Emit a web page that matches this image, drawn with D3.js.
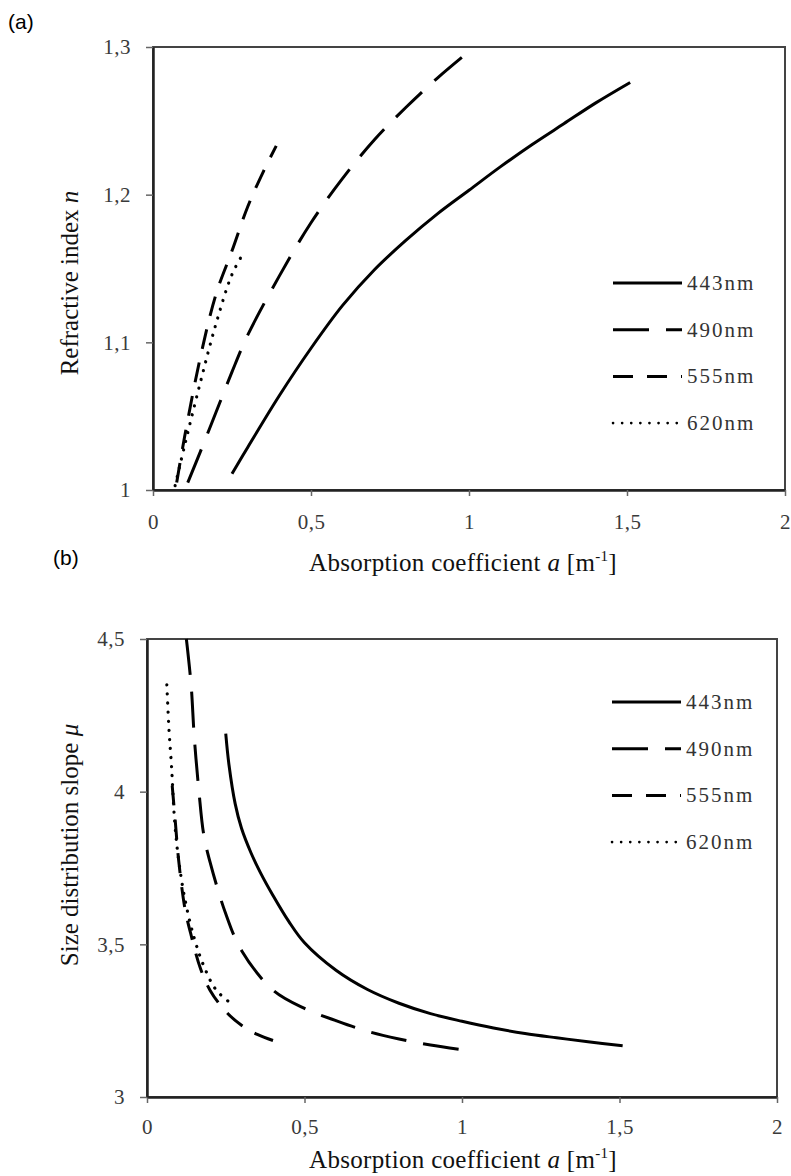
<!DOCTYPE html>
<html>
<head>
<meta charset="utf-8">
<script src="https://cdn.jsdelivr.net/npm/d3@7"></script>
<style>
  body { margin: 0; background: #fff; }
  svg { display: block; }
  .tick text { font-family: "Liberation Serif", serif; font-size: 21px; fill: #3a3a3a; letter-spacing: 0.5px; }
  .tick line { stroke: #666; stroke-width: 1.5; }
</style>
</head>
<body>
<div id="chart"></div>
<script>
// wavelengths shown in the legend
var wavelengths = ["443nm", "490nm", "555nm", "620nm"];
var dashes = [null, "36,17", "20,14", "0.1,9"];

// tick labels (comma as decimal separator)
var xTicks = [0, 0.5, 1, 1.5, 2];
var xTickLabels = ["0", "0,5", "1", "1,5", "2"];
var nTicks = [1, 1.1, 1.2, 1.3];
var nTickLabels = ["1", "1,1", "1,2", "1,3"];
var muTicks = [3, 3.5, 4, 4.5];
var muTickLabels = ["3", "3,5", "4", "4,5"];

// (a) refractive index n against absorption coefficient a
var n443 = [[0.25,1.011],[0.3,1.029],[0.4,1.064],[0.5,1.096],[0.6,1.125],[0.7,1.149],[0.8,1.169],[0.9,1.187],[1.0,1.203],[1.1,1.219],[1.2,1.234],[1.3,1.248],[1.4,1.262],[1.51,1.276]];
var n490 = [[0.11,1.005],[0.15,1.026],[0.2,1.053],[0.25,1.08],[0.3,1.105],[0.4,1.145],[0.5,1.181],[0.6,1.211],[0.7,1.237],[0.8,1.259],[0.9,1.279],[1.0,1.297]];
var n555 = [[0.075,1.005],[0.1,1.036],[0.15,1.09],[0.2,1.133],[0.25,1.162],[0.3,1.192],[0.35,1.216],[0.39,1.233]];
var n620 = [[0.07,1.003],[0.1,1.03],[0.15,1.073],[0.2,1.113],[0.25,1.146],[0.285,1.16]];

// (b) size distribution slope mu against absorption coefficient a
var mu443 = [[0.25,4.19],[0.26,4.09],[0.28,3.96],[0.3,3.88],[0.33,3.8],[0.36,3.735],[0.4,3.66],[0.45,3.575],[0.5,3.505],[0.6,3.415],[0.7,3.352],[0.8,3.307],[0.9,3.273],[1.0,3.248],[1.1,3.226],[1.2,3.208],[1.3,3.194],[1.4,3.181],[1.51,3.168]];
var mu490 = [[0.125,4.5],[0.14,4.35],[0.15,4.18],[0.165,4.0],[0.18,3.86],[0.2,3.77],[0.25,3.6],[0.3,3.48],[0.4,3.35],[0.5,3.29],[0.6,3.25],[0.7,3.215],[0.8,3.19],[0.9,3.17],[1.0,3.155]];
var mu555 = [[0.08,4.02],[0.09,3.9],[0.1,3.78],[0.12,3.62],[0.14,3.53],[0.17,3.42],[0.2,3.35],[0.25,3.28],[0.3,3.235],[0.35,3.205],[0.4,3.185]];
var mu620 = [[0.063,4.35],[0.07,4.2],[0.078,4.08],[0.088,3.9],[0.1,3.78],[0.12,3.65],[0.15,3.52],[0.18,3.43],[0.22,3.35],[0.275,3.3]];

var svg = d3.select("#chart").append("svg")
    .attr("width", 791)
    .attr("height", 1176);

var serif = "'Liberation Serif', 'Times New Roman', serif";

function panel(opt) {
    var x = d3.scaleLinear().domain([0, 2]).range([opt.left, opt.right]);
    var y = d3.scaleLinear().domain(opt.domain).range([opt.bottom, opt.top]);

    // frame
    svg.append("rect")
        .attr("x", opt.left).attr("y", opt.top)
        .attr("width", opt.right - opt.left).attr("height", opt.bottom - opt.top)
        .attr("fill", "none").attr("stroke", "#444").attr("stroke-width", 2);

    var ax = svg.append("g")
        .attr("transform", "translate(0," + opt.bottom + ")")
        .call(d3.axisBottom(x).tickValues(xTicks)
            .tickFormat(function(d, i) { return xTickLabels[i]; })
            .tickSize(6).tickSizeOuter(0).tickPadding(opt.xPad))
        .attr("font-family", serif);
    ax.select(".domain").attr("stroke", "#222").attr("stroke-width", 2.5);

    var ay = svg.append("g")
        .attr("transform", "translate(" + opt.left + ",0)")
        .call(d3.axisLeft(y).tickValues(opt.ticks)
            .tickFormat(function(d, i) { return opt.tickLabels[i]; })
            .tickSize(7).tickSizeOuter(0).tickPadding(15))
        .attr("font-family", serif);
    ay.select(".domain").attr("stroke", "#222").attr("stroke-width", 2.5);

    var line = d3.line()
        .x(function(d) { return x(d[0]); })
        .y(function(d) { return y(d[1]); })
        .curve(d3.curveCatmullRom);

    opt.series.forEach(function(s, i) {
        svg.append("path")
            .datum(s)
            .attr("fill", "none")
            .attr("stroke", "#000")
            .attr("stroke-width", i == 3 ? 3.2 : 3)
            .attr("stroke-linecap", i == 3 ? "round" : "butt")
            .attr("stroke-dasharray", dashes[i])
            .attr("d", line);
    });

    // legend
    wavelengths.forEach(function(w, i) {
        var ly = opt.legendY + i * 46.7;
        svg.append("line")
            .attr("x1", opt.legendX).attr("x2", opt.legendX + 69)
            .attr("y1", ly).attr("y2", ly)
            .attr("stroke", "#000")
            .attr("stroke-width", i == 3 ? 2.6 : 3)
            .attr("stroke-linecap", i == 3 ? "round" : "butt")
            .attr("stroke-dasharray", dashes[i]);
        svg.append("text")
            .attr("x", opt.legendX + 74).attr("y", ly)
            .attr("dy", "0.33em")
            .style("font-family", serif).style("font-size", "21px")
            .style("letter-spacing", "2px")
            .style("fill", "#333")
            .text(w);
    });

    // x title
    var xt = svg.append("text")
        .attr("x", 463).attr("y", opt.xTitleY)
        .attr("text-anchor", "middle")
        .style("font-family", serif).style("font-size", "25px")
        .style("letter-spacing", "0.3px")
        .style("fill", "#111");
    xt.append("tspan").text("Absorption coefficient ");
    xt.append("tspan").style("font-style", "italic").text("a");
    xt.append("tspan").text(" [m");
    xt.append("tspan").attr("dy", -10).style("font-size", "15px").text("-1");
    xt.append("tspan").attr("dy", 10).text("]");

    // y title
    var yt = svg.append("text")
        .attr("transform", "translate(70," + opt.yTitleY + ") rotate(-90)")
        .attr("text-anchor", "middle")
        .attr("dy", "0.33em")
        .style("font-family", serif).style("font-size", "25px")
        .style("fill", "#111");
    yt.append("tspan").text(opt.yTitle + " ");
    yt.append("tspan").style("font-style", "italic").text(opt.ySymbol);

    svg.append("text")
        .attr("x", opt.tagX).attr("y", opt.tagY)
        .attr("dy", "0.35em")
        .style("font-family", "'Liberation Sans', Arial, sans-serif")
        .style("font-size", "21px")
        .text(opt.tag);
}

panel({
    left: 153, right: 785, top: 47, bottom: 490,
    domain: [1, 1.3], ticks: nTicks, tickLabels: nTickLabels,
    series: [n443, n490, n555, n620],
    xPad: 18, legendX: 613, legendY: 283,
    xTitleY: 571, yTitleY: 283,
    yTitle: "Refractive index", ySymbol: "n",
    tag: "(a)", tagX: 8, tagY: 22
});

panel({
    left: 147, right: 777, top: 639, bottom: 1097,
    domain: [3, 4.5], ticks: muTicks, tickLabels: muTickLabels,
    series: [mu443, mu490, mu555, mu620],
    xPad: 16, legendX: 612, legendY: 702,
    xTitleY: 1168, yTitleY: 845,
    yTitle: "Size distribution slope", ySymbol: "\u03bc",
    tag: "(b)", tagX: 53, tagY: 558
});
</script>
</body>
</html>
